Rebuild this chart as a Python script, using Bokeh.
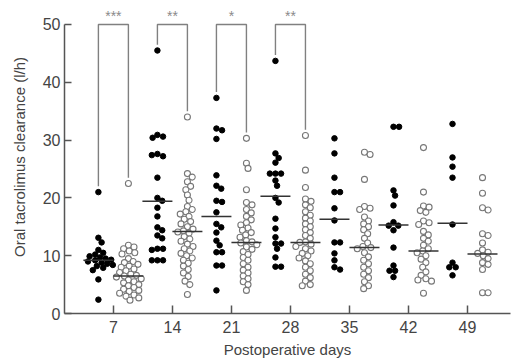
from bokeh.plotting import figure
from bokeh.embed import file_html
from bokeh.resources import INLINE
from bokeh.models import FixedTicker, Range1d
from bokeh.core.properties import value

# ---------------- data ----------------
days = [7, 14, 21, 28, 35, 42, 49]

filled = {
    7: [21.0, 13.1, 12.3, 11.0, 10.5, 10.2, 9.9, 9.7, 9.5, 9.3, 9.2, 9.0, 8.8, 8.6, 8.4, 8.2, 7.9, 7.5, 5.9, 2.4],
    14: [45.5, 30.9, 30.6, 30.4, 27.6, 27.2, 27.4, 23.5, 20.0, 19.5, 18.3, 16.8, 14.9, 14.4, 13.5, 13.0, 11.2, 11.2, 11.0, 9.2, 9.2, 9.2],
    21: [37.3, 32.0, 31.7, 30.2, 23.9, 22.1, 21.6, 19.5, 19.3, 17.5, 15.5, 14.9, 14.0, 12.6, 11.8, 10.6, 10.6, 8.3, 8.3, 4.0],
    28: [43.7, 27.7, 26.9, 26.1, 24.2, 24.2, 24.2, 23.0, 22.1, 20.0, 19.2, 16.4, 14.7, 13.2, 12.1, 12.1, 11.2, 9.7, 8.1, 8.1],
    35: [30.3, 27.7, 23.5, 21.0, 21.0, 18.2, 16.1, 12.3, 12.3, 10.4, 9.2, 8.0, 7.6],
    42: [32.3, 32.3, 21.3, 20.4, 18.7, 15.8, 15.2, 15.2, 14.4, 11.4, 8.3, 7.4, 7.4, 6.3],
    49: [32.8, 27.0, 25.4, 23.5, 15.4, 8.8, 8.0, 8.0, 6.6],
}

opened = {
    7: [22.5, 11.8, 11.5, 11.2, 10.8, 10.5, 10.3, 9.5, 9.0, 8.8, 8.5, 8.2, 8.0, 7.7, 7.4, 7.1, 6.8, 6.6,
        6.5, 6.3, 6.0, 5.8, 5.5, 5.3, 5.0, 4.8, 4.5, 4.2, 4.0, 3.8, 3.5, 3.2, 3.0, 2.7, 2.3],
    14: [34.0, 24.2, 23.6, 22.8, 22.0, 21.4, 20.5, 19.6, 18.5, 18.0, 17.6, 17.2, 16.8, 16.3, 15.9, 15.5, 15.0,
         14.6, 14.3, 14.1, 13.9, 13.3, 12.9, 12.5, 12.0, 11.6, 11.2, 10.8, 10.4, 10.0, 9.6, 9.2, 8.7, 8.2,
         7.6, 7.0, 6.4, 5.6, 5.0, 3.3],
    21: [30.3, 26.0, 25.1, 21.4, 19.2, 18.8, 18.0, 17.4, 16.8, 16.2, 15.7, 15.3, 14.8, 14.4, 14.0, 13.6, 13.2,
         12.6, 12.4, 12.2, 11.9, 11.5, 11.1, 10.7, 10.2, 9.7, 9.2, 8.6, 8.0, 7.5, 7.0, 6.5, 6.0, 5.5, 5.0, 4.0],
    28: [30.8, 24.8, 21.8, 19.8, 19.4, 18.8, 18.3, 17.6, 17.0, 16.5, 16.0, 15.5, 15.0, 14.5, 14.0, 13.5, 13.0,
         12.4, 12.3, 12.0, 11.6, 11.2, 10.8, 10.4, 10.0, 9.6, 9.1, 8.6, 8.0, 7.4, 6.8, 6.2, 5.6, 5.0, 4.8],
    35: [27.9, 27.5, 23.2, 18.5, 18.2, 18.0, 16.7, 16.0, 15.5, 15.0, 14.5, 13.8, 13.0, 12.2, 11.6, 11.4,
         11.2, 10.5, 9.8, 9.2, 8.6, 8.0, 7.4, 6.8, 6.2, 5.5, 4.8, 4.3],
    42: [28.7, 21.0, 18.6, 18.4, 17.8, 17.5, 16.0, 15.7, 15.4, 14.2, 13.6, 13.0, 12.5, 11.8, 11.2, 10.8,
         10.5, 10.0, 9.4, 8.8, 8.0, 7.2, 6.6, 6.0, 5.8, 5.6, 3.5],
    49: [23.5, 20.8, 18.3, 17.9, 13.8, 13.5, 12.2, 11.0, 10.6, 10.4, 10.0, 9.5, 8.8, 8.5, 7.6, 3.6, 3.6],
}

median_filled = [9.2, 19.4, 16.8, 20.3, 16.3, 15.3, 15.6]
median_open = [6.5, 14.2, 12.3, 12.3, 11.4, 10.8, 10.3]

sig_days = [7, 14, 21, 28]
sig_labels = ["***", "**", "*", "**"]

y_ticks = [0, 10, 20, 30, 40, 50]

# ---------------- layout helpers ----------------
W, H = 512, 361
LEFT, RIGHT, TOP, BOTTOM = 64, 2, 0, 48
X0, X1 = 1.2, 54.1
Y0, Y1 = 0.0, 54.15
px_x = (W - LEFT - RIGHT) / (X1 - X0)
px_y = (H - TOP - BOTTOM) / (Y1 - Y0)
half = 15 / px_x  # group half width in days


def swarm(vals, center, diam=5.4):
    placed = []
    xs = []
    for v in vals:
        yp = v * px_y
        chosen = 0.0
        for k in range(0, 200):
            off = ((k + 1) // 2) * (1 if k % 2 == 1 else -1) * 0.8
            ok = True
            for (xq, yq) in placed:
                if (off - xq) ** 2 + (yp - yq) ** 2 < diam ** 2:
                    ok = False
                    break
            if ok:
                chosen = off
                break
        placed.append((chosen, yp))
        xs.append(center + chosen / px_x)
    return xs


p = figure(width=W, height=H, output_backend="svg", toolbar_location=None,
           x_range=Range1d(X0, X1), y_range=Range1d(Y0, Y1),
           min_border_left=LEFT, min_border_right=RIGHT, min_border_top=TOP,
           min_border_bottom=BOTTOM)
p.outline_line_color = None
p.grid.visible = False
p.background_fill_color = "white"

axis_col = "#555555"
text_col = "#444444"
font = "Liberation Sans"

# brackets
for d, lab in zip(sig_days, sig_labels):
    L, R = d - half, d + half
    lb = max(filled[d]) + 1.0
    rb = max(opened[d]) + 1.0
    p.line([L, L, R, R], [lb, 50, 50, rb], line_color="#808080", line_width=1.4)
    p.text(x=[d], y=[50 + 8 / px_y], text=[lab], text_align="center", text_baseline="middle",
           text_font=value(font), text_font_size="14px", text_color="#8a8a8a")

# points
for i, d in enumerate(days):
    fx = swarm(filled[d], d - half)
    ox = swarm(opened[d], d + half)
    p.scatter(ox, opened[d], size=6, marker="circle", fill_color="white",
              line_color="#777777", line_width=1.1)
    p.scatter(fx, filled[d], size=5.5, marker="circle", fill_color="black", line_color="black")
    p.segment(x0=[d - 2 * half], x1=[d], y0=[median_filled[i]], y1=[median_filled[i]],
              line_color="#333333", line_width=1.5)
    p.segment(x0=[d], x1=[d + 2 * half], y0=[median_open[i]], y1=[median_open[i]],
              line_color="#333333", line_width=1.5)

# axes
xa = p.xaxis[0]
xa.ticker = FixedTicker(ticks=days)
xa.axis_label = "Postoperative days"
xa.major_tick_in = 8
xa.major_tick_out = 0
xa.minor_tick_line_color = None
xa.major_label_standoff = 7

ya = p.yaxis[0]
ya.ticker = FixedTicker(ticks=y_ticks)
ya.axis_label = "Oral tacrolimus clearance (l/h)"
ya.bounds = (0, 50)
ya.major_tick_in = 7
ya.major_tick_out = 0
ya.minor_tick_line_color = None
ya.major_label_standoff = 4

for ax in (xa, ya):
    ax.axis_line_color = axis_col
    ax.axis_line_width = 1.5
    ax.major_tick_line_color = axis_col
    ax.major_tick_line_width = 1.5
    ax.major_label_text_font = font
    ax.major_label_text_font_size = "16px"
    ax.major_label_text_color = text_col
    ax.axis_label_text_font = font
    ax.axis_label_text_font_size = "15px"
    ax.axis_label_text_font_style = "normal"
    ax.axis_label_text_color = text_col
xa.axis_label_standoff = 5
ya.axis_label_standoff = 12

open("out.html", "w").write(file_html(p, INLINE))
